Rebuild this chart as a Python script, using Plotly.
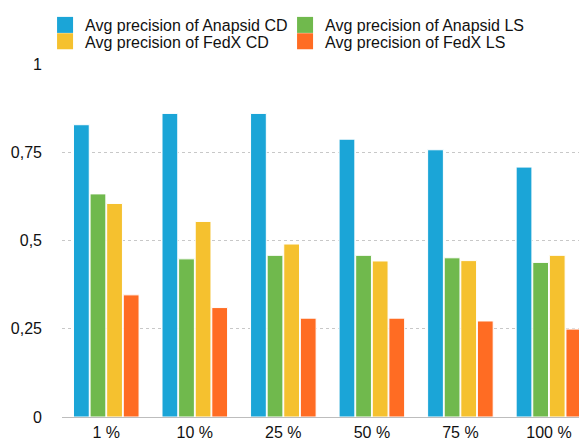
import plotly.graph_objects as go

categories = ["1 %", "10 %", "25 %", "50 %", "75 %", "100 %"]
anapsid_cd = [0.828, 0.860, 0.860, 0.787, 0.757, 0.708]
anapsid_ls = [0.632, 0.448, 0.458, 0.458, 0.451, 0.438]
fedx_cd = [0.605, 0.554, 0.490, 0.442, 0.443, 0.458]
fedx_ls = [0.346, 0.310, 0.280, 0.280, 0.272, 0.249]
tick_vals = [0, 0.25, 0.5, 0.75, 1]
tick_text = ["0", "0,25", "0,5", "0,75", "1"]

series = [
    ("Avg precision of Anapsid CD", anapsid_cd, "#1BA5D7", "legend"),
    ("Avg precision of Anapsid LS", anapsid_ls, "#70B94D", "legend"),
    ("Avg precision of FedX CD", fedx_cd, "#F5C12F", "legend2"),
    ("Avg precision of FedX LS", fedx_ls, "#FF6C23", "legend2"),
]

fig = go.Figure()
for name, vals, color, leg in series:
    fig.add_trace(go.Bar(
        x=categories, y=vals, name=name, showlegend=False,
        marker=dict(color=color, line=dict(color="white", width=1)),
    ))
for name, vals, color, leg in series:
    fig.add_trace(go.Scatter(
        x=[None], y=[None], mode="markers", name=name, legend=leg,
        marker=dict(symbol="square", size=16, color=color),
        showlegend=True, hoverinfo="skip",
    ))

leg_common = dict(
    orientation="h", xanchor="left", yanchor="top",
    xref="container", yref="container",
    entrywidth=195, entrywidthmode="pixels",
    font=dict(size=16), bgcolor="rgba(0,0,0,0)",
)

fig.update_layout(
    width=579, height=433,
    margin=dict(l=54, r=0, t=56, b=24, autoexpand=False),
    paper_bgcolor="white", plot_bgcolor="white",
    font=dict(family="Liberation Sans, Arial, sans-serif", size=16, color="#111111"),
    barmode="group", bargap=0.25, bargroupgap=0.05,
    showlegend=True,
    legend=dict(x=0.064, y=1.0, **leg_common),
    legend2=dict(x=0.064, y=0.962, **leg_common),
    xaxis=dict(
        range=[-0.5, 5.43], showgrid=False, showline=True, automargin=False,
        linecolor="#BDBDBD", linewidth=1, ticks="", tickfont=dict(size=16),
        ticklabelstandoff=1,
    ),
    yaxis=dict(
        range=[0, 1], tickvals=tick_vals, ticktext=tick_text, automargin=False,
        showgrid=True, gridcolor="#C8C8C8", griddash="dot", gridwidth=1,
        zeroline=False, showline=False, ticks="", ticklabelstandoff=19,
        tickfont=dict(size=16),
    ),
)
fig.write_html("out.html")
